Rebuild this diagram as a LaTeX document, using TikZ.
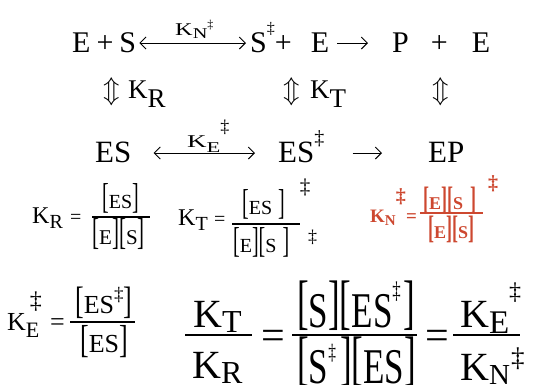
\documentclass[tikz,border=0pt]{standalone}
\usepackage{fontspec}
\setmainfont{Liberation Serif}
\usepackage{graphicx}
\usetikzlibrary{calc,arrows.meta}
\definecolor{kred}{RGB}{205,72,48}
\newcommand{\fs}[1]{\fontsize{#1}{#1}\selectfont}
\newcommand{\low}[3]{\raisebox{-#1pt}{\fs{#2}#3}}
\newcommand{\dg}[2]{\raisebox{#2pt}{\fs{#1}\ddag}}
\newcommand{\lb}[1][1.8]{\scalebox{1}[#1]{[}}
\newcommand{\rb}[1][1.8]{\scalebox{1}[#1]{]}}
\newcommand{\bb}[1]{\raisebox{5pt}{\scalebox{1}[1.2]{#1}}}
\newcommand{\updn}{\scalebox{2.7}{$\Updownarrow$}}
\tikzset{txt/.style={inner sep=0pt,anchor=base west},
  tip/.tip={Straight Barb[length=6pt,width=12pt,line width=1pt]},
  arr/.style={line width=.9pt,-tip},
  dbl/.style={line width=.9pt,tip-tip},
  bar/.style={line width=1.1pt},
  bigbar/.style={line width=2pt}}
\begin{document}
\begin{tikzpicture}[x=1pt,y=-1pt]
\useasboundingbox (0,0) rectangle (533,384);
% reactions
\node[txt] (es1) at (72,52) {\fs{30}E\hspace{6pt}+\hspace{6pt}S};
\node[txt] (s1) at (250,52) {\fs{30}S\dg{16}{19}+\hspace{19pt}E};
\node[txt] (p1) at (392,52) {\fs{30}P\hspace{22pt}+\hspace{24pt}E};
\node[txt] (kn) at (175,35) {\scalebox{1.35}[1]{\fs{18}K\low{3}{15}{N}}\dg{12}{7}};
\draw[dbl] ($(es1.base east)+(3,-9)$) -- ($(s1.base west)+(-4,-9)$);
\draw[arr] ($(s1.base east)+(8,-9)$) -- ($(p1.base west)+(-24,-9)$);
\node[txt] (ud1) at (103,98) {\updn};
\node[txt] (kr) at (128,98) {\fs{27}K\low{9}{27}{R}};
\node[txt] (ud2) at (283,98) {\updn};
\node[txt] (kt) at (310,98) {\fs{27}K\low{9}{27}{T}};
\node[txt] (ud3) at (432,98) {\updn};
\node[txt] (es2) at (95,162) {\fs{31}ES};
\node[txt] (ke) at (187,147) {\scalebox{1.5}[1]{\fs{18}K\low{5}{15}{E}}\dg{18}{15}};
\node[txt] (es3) at (278,162) {\fs{31}ES\dg{20}{18}};
\node[txt] (ep) at (428,162) {\fs{31}EP};
\draw[dbl] ($(es2.base east)+(22,-9)$) -- ($(es3.base west)+(-23,-9)$);
\draw[arr] ($(es3.base east)+(28,-9)$) -- ($(ep.base west)+(-46,-9)$);
% constants
\node[txt] (kr2) at (32,223) {\fs{24}K\low{5}{20}{R}};
\node[txt] (eq1) at (70,223) {\fs{20}=};
\node[txt] (n1) at (102,208) {\fs{20}\lb ES\rb};
\draw[bar] (92,217) -- (150,217);
\node[txt] (d1) at (92,244) {\fs{21}\lb E\rb\lb S\rb};
\node[txt] (kt2) at (178,225) {\fs{24}K\low{5}{20}{T}};
\node[txt] (eq2) at (214,225) {\fs{20}=};
\node[txt] (n2) at (242,214) {\fs{20}\lb ES\hspace{6pt}\rb\hspace{15pt}\dg{21}{21}};
\draw[bar] (232,224) -- (300,224);
\node[txt] (d2) at (233,252) {\fs{20}\lb E\rb\lb S\hspace{6pt}\rb\hspace{19pt}\dg{18}{10}};
\node[txt,kred] (kn2) at (370,222) {\bfseries\fs{19}K\low{3}{15}{N}\dg{20}{20}};
\node[txt,kred] (eq3) at (406,222) {\bfseries\fs{19}=};
\node[txt,kred] (n3) at (423,209) {\bfseries\fs{18}\lb E\rb\lb S\hspace{7pt}\rb\hspace{12pt}\dg{20}{20}};
\draw[bar,kred] (420,213) -- (483,213);
\node[txt,kred] (d3) at (428,238) {\bfseries\fs{18}\lb E\rb\lb S\rb};
% ratios
\node[txt] (ke2) at (7,330) {\fs{26}K\rlap{\hspace{4pt}\dg{24}{22}}\low{7}{22}{E}};
\node[txt] (eq4) at (50,330) {\fs{26}=};
\node[txt] (n4) at (75,313) {\fs{26}\lb[1.47]ES\dg{19}{13}\rb[1.47]};
\draw[bar] (70,322) -- (135,322);
\node[txt] (d4) at (80,352) {\fs{26}\lb[1.5]ES\rb[1.5]};
\node[txt] (kt3) at (193,327) {\fs{40}K\low{5}{32}{T}};
\draw[bigbar] (185,335) -- (252,335);
\node[txt] (kr3) at (192,378) {\fs{40}K\low{5}{32}{R}};
\node[txt] (eq5) at (261,349) {\fs{42}=};
\node[txt] (n5) at (297,327) {\scalebox{.7}[1]{\fs{50}\bb{[}S\bb{]}\bb{[}ES\dg{24}{29}\hspace{4pt}\bb{]}}};
\draw[bigbar] (292,335) -- (417,335);
\node[txt] (d5) at (297,383) {\scalebox{.7}[1]{\fs{50}\bb{[}S\dg{22}{24}\hspace{6pt}\bb{]}\bb{[}ES\bb{]}}};
\node[txt] (eq6) at (425,349) {\fs{42}=};
\node[txt] (ke3) at (460,327) {\fs{40}K\low{6}{33}{E}\dg{24}{28}};
\draw[bigbar] (453,335) -- (520,335);
\node[txt] (kn3) at (460,380) {\fs{40}K\low{4}{29}{N}\hspace{1pt}\dg{27}{14}};
\end{tikzpicture}
\end{document}
